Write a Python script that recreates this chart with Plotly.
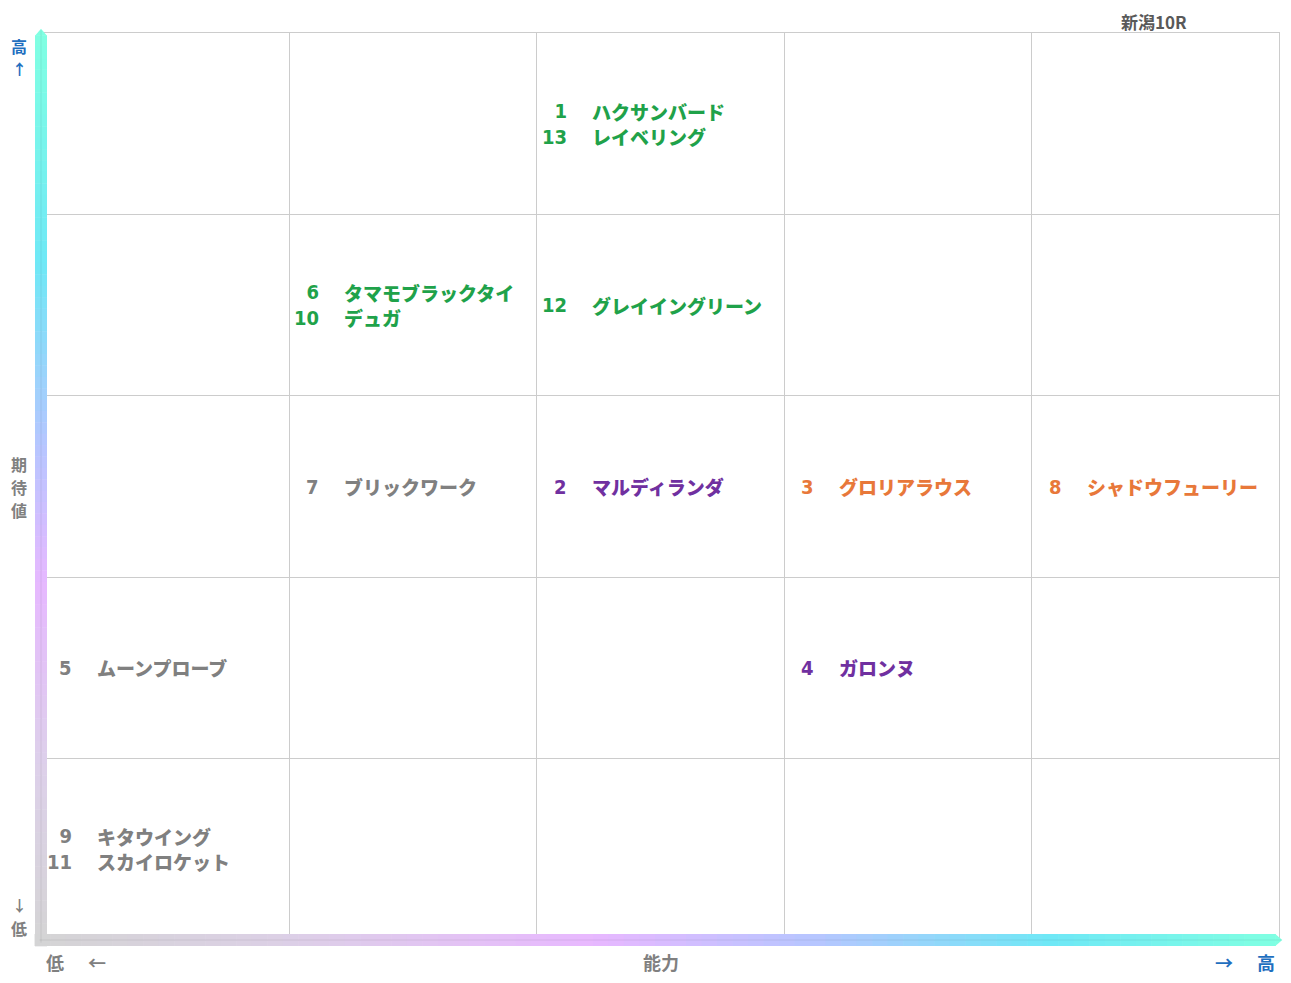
import plotly.graph_objects as go

# ---------------- data ----------------
title_text = "新潟10R"
nums = [1, 13, 6, 10, 12, 7, 2, 3, 8, 5, 4, 9, 11]
names = ["ハクサンバード", "レイベリング", "タマモブラックタイ", "デュガ", "グレイイングリーン",
         "ブリックワーク", "マルディランダ", "グロリアラウス", "シャドウフューリー",
         "ムーンプローブ", "ガロンヌ", "キタウイング", "スカイロケット"]
ability = [2, 2, 1, 1, 2, 1, 2, 3, 4, 0, 3, 0, 0]      # column 0..4 (能力)
expect = [4, 4, 3, 3, 3, 2, 2, 2, 2, 1, 1, 0, 0]       # row 0..4 (期待値)
groups = ["g", "g", "g", "g", "g", "k", "p", "o", "o", "k", "p", "k", "k"]
x_label = "能力"
y_label = "期待値"
low_label = "低"
high_label = "高"

# ---------------- styles ----------------
group_colors = {"g": "#1fa24a", "k": "#808080", "p": "#7030a0", "o": "#e8783a"}
NFONT = "DejaVu Sans Condensed, Noto Sans CJK JP, sans-serif"
JFONT = "Noto Sans CJK JP, sans-serif"
GRID = "#cccccc"
BLUE = "#1f6fbf"
GRAY = "#808080"
TSIZE = 19

fig = go.Figure()
fig.add_trace(go.Scatter(x=[0, 5], y=[0, 5], mode="markers",
                         marker=dict(opacity=0), hoverinfo="skip", showlegend=False))

# group horses per cell (keeps input order)
cells = {}
for n, nm, a, e, g in zip(nums, names, ability, expect, groups):
    cells.setdefault((a, e, g), []).append((n, nm))

for (a, e, g), items in cells.items():
    col = group_colors[g]
    num_txt = "<br>".join(str(n) for n, _ in items)
    name_txt = "<br>".join(nm for _, nm in items)
    fig.add_annotation(x=a, y=e + 0.5, xref="x", yref="y", text=num_txt, align="right",
                       xanchor="right", yanchor="middle", xshift=32, yshift=0,
                       showarrow=False, font=dict(family=NFONT, size=20, color=col, weight=600))
    fig.add_annotation(x=a, y=e + 0.5, xref="x", yref="y", text=name_txt, align="left",
                       xanchor="left", yanchor="middle", xshift=53, yshift=0,
                       showarrow=False, font=dict(family=JFONT, size=TSIZE, color=col, weight=900))


def hex2rgb(h):
    h = h.lstrip("#")
    return tuple(int(h[i:i + 2], 16) for i in (0, 2, 4))


def interp(stops, t):
    for (t0, c0), (t1, c1) in zip(stops[:-1], stops[1:]):
        if t0 <= t <= t1:
            f = 0 if t1 == t0 else (t - t0) / (t1 - t0)
            a, b = hex2rgb(c0), hex2rgb(c1)
            return "rgb(%d,%d,%d)" % tuple(round(a[i] + (b[i] - a[i]) * f) for i in range(3))
    return stops[-1][1]


vstops = [(0.0, "#80ffe2"), (0.25, "#6fe8f6"), (0.45, "#b6c6ff"), (0.6, "#e6b8ff"),
          (0.8, "#ddd0ea"), (1.0, "#d4d4d4")]   # top -> bottom
hstops = [(0.0, "#d4d4d4"), (0.2, "#dcd0e6"), (0.45, "#e8b8ff"), (0.63, "#b6c6ff"),
          (0.82, "#6fe8f6"), (1.0, "#80ffe2")]  # left -> right

shapes = []
N = 80
HALF = 6
y_bot, y_top = -0.007, 0.997
for i in range(N):
    t0 = i / N
    t1 = (i + 1) / N
    ya = y_top - (y_top - y_bot) * t0
    yb = y_top - (y_top - y_bot) * t1
    shapes.append(dict(type="rect", xref="paper", yref="paper", xsizemode="pixel", xanchor=0,
                       x0=-HALF - 1, x1=HALF - 1, y0=yb, y1=ya + 0.0005,
                       fillcolor=interp(vstops, (t0 + t1) / 2), line=dict(width=0), layer="above"))
x_left, x_right = -0.006, 0.997
for i in range(N):
    t0 = i / N
    t1 = (i + 1) / N
    xa = x_left + (x_right - x_left) * t0
    xb = x_left + (x_right - x_left) * t1
    shapes.append(dict(type="rect", xref="paper", yref="paper", ysizemode="pixel", yanchor=0,
                       y0=-HALF, y1=HALF, x0=xa, x1=xb + 0.0005,
                       fillcolor=interp(hstops, (t0 + t1) / 2), line=dict(width=0), layer="above"))
shapes.append(dict(type="path", xref="paper", yref="paper", xsizemode="pixel", ysizemode="pixel",
                   xanchor=0, yanchor=y_top, path="M -7,0 L -1,7 L 5,0 Z",
                   fillcolor=vstops[0][1], line=dict(width=0), layer="above"))
shapes.append(dict(type="path", xref="paper", yref="paper", xsizemode="pixel", ysizemode="pixel",
                   xanchor=x_right, yanchor=0, path="M 0,-6 L 7,0 L 0,6 Z",
                   fillcolor=hstops[-1][1], line=dict(width=0), layer="above"))
shapes.append(dict(type="line", xref="paper", yref="paper", xsizemode="pixel", xanchor=0,
                   x0=-1, x1=-1, y0=y_bot + 0.004, y1=y_top + 0.006,
                   line=dict(color="rgba(0,0,0,0.07)", width=1), layer="above"))
shapes.append(dict(type="line", xref="paper", yref="paper", ysizemode="pixel", yanchor=0,
                   y0=0, y1=0, x0=x_left + 0.004, x1=x_right + 0.005,
                   line=dict(color="rgba(0,0,0,0.07)", width=1), layer="above"))

# axis label annotations
lab = dict(showarrow=False, xref="paper", yref="paper", xanchor="center", yanchor="middle")
ann = [
    dict(text=f"<b>{title_text}</b>", x=0.899, y=1.0, yshift=12,
         font=dict(family=JFONT, size=17, color="#595959")),
    dict(text=f"<b>{high_label}</b>", x=0, xshift=-23, y=1, yshift=-13,
         font=dict(family=JFONT, size=16, color=BLUE)),
    dict(text="<b>↑</b>", x=0, xshift=-23, y=1, yshift=-35,
         font=dict(family=JFONT, size=15, color=BLUE)),
    dict(text="<b>↓</b>", x=0, xshift=-23, y=0, yshift=36,
         font=dict(family=JFONT, size=15, color=GRAY)),
    dict(text=f"<b>{low_label}</b>", x=0, xshift=-23, y=0, yshift=12,
         font=dict(family=JFONT, size=16, color=GRAY)),
    dict(text=f"<b>{low_label}</b>", x=0, xshift=13, y=0, yshift=-22,
         font=dict(family=JFONT, size=18, color=GRAY)),
    dict(text="<b>←</b>", x=0, xshift=55, y=0, yshift=-22,
         font=dict(family=JFONT, size=18, color=GRAY)),
    dict(text=f"<b>{x_label}</b>", x=0.5, xshift=0, y=0, yshift=-22,
         font=dict(family=JFONT, size=18, color=GRAY)),
    dict(text="<b>→</b>", x=1, xshift=-55, y=0, yshift=-22,
         font=dict(family=JFONT, size=18, color=BLUE)),
    dict(text=f"<b>{high_label}</b>", x=1, xshift=-13, y=0, yshift=-22,
         font=dict(family=JFONT, size=18, color=BLUE)),
]
# vertical y label, one character per line
for i, ch in enumerate(y_label):
    ann.append(dict(text=f"<b>{ch}</b>", x=0, xshift=-23, y=0.5,
                    yshift=(len(y_label) - 1) / 2 * 23 - i * 23,
                    font=dict(family=JFONT, size=16, color=GRAY)))
for a in ann:
    fig.add_annotation(**lab, **a)

axis_common = dict(range=[0, 5], dtick=1, tick0=0, showgrid=True, gridcolor=GRID, gridwidth=1,
                   zeroline=False, showticklabels=False, ticks="", showline=True, mirror=True,
                   linecolor=GRID, linewidth=1, fixedrange=True)
fig.update_layout(
    width=1283, height=975,
    margin=dict(l=34, r=12, t=25, b=43),
    paper_bgcolor="white", plot_bgcolor="white",
    xaxis=axis_common, yaxis=axis_common,
    shapes=shapes, showlegend=False,
)
fig.write_html("out.html", config={"displayModeBar": False})
